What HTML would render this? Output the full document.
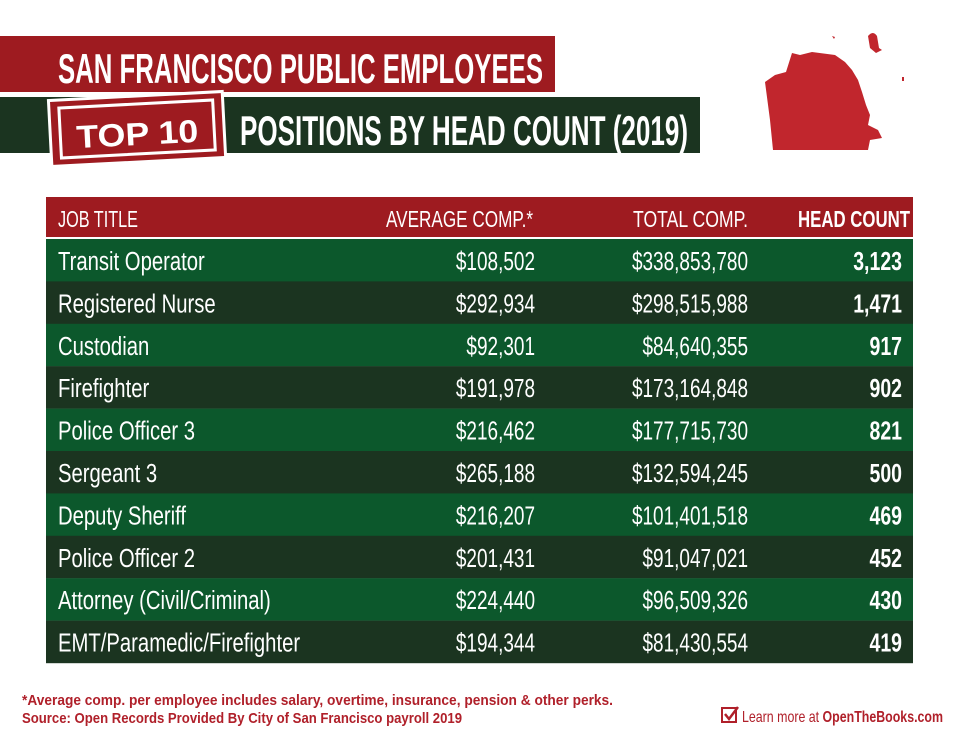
<!DOCTYPE html><html><head><style>
body{margin:0;width:959px;height:746px;background:#fff;overflow:hidden}
svg{display:block}
text{font-family:"Liberation Sans",sans-serif;fill:#fff}
</style></head><body>
<svg width="959" height="746" viewBox="0 0 959 746">
<rect x="0" y="36" width="555" height="56" fill="#9e1b20"/>
<text x="58" y="83" font-size="42" font-weight="bold" textLength="485" lengthAdjust="spacingAndGlyphs">SAN FRANCISCO PUBLIC EMPLOYEES</text>
<rect x="0" y="97" width="700" height="56" fill="#1b3420"/>
<text x="240" y="145" font-size="42" font-weight="bold" textLength="448" lengthAdjust="spacingAndGlyphs">POSITIONS BY HEAD COUNT (2019)</text>
<g transform="rotate(-3 137 128)">
<rect x="50" y="96" width="174" height="66" fill="#9e1b20" stroke="#fff" stroke-width="3"/>
<rect x="60" y="104" width="154" height="50" fill="none" stroke="#fff" stroke-width="3"/>
<text x="137" y="145" font-size="32" font-weight="bold" text-anchor="middle" textLength="122" lengthAdjust="spacingAndGlyphs">TOP 10</text>
</g>
<path d="M765 82 L775 75 L786 72 L792 53 L800 55 L812 52 L835 55 L845 62 L852 70 L858 80 L862 92 L866 105 L870 115 L868 125 L878 130 L882 138 L870 140 L868 150 L773 150 L770 120 Z" fill="#c1262d"/>
<path d="M868 36 Q873 30 877 36 L879 48 L882 50 L876 53 L870 48 Z M832 36 l3 1 -1 2z M902 77 l2 0 0 4 -2 0z" fill="#c1262d"/>
<rect x="46" y="197" width="867" height="40" fill="#9e1b20"/>
<g font-size="23">
<text x="58" y="227" textLength="80" lengthAdjust="spacingAndGlyphs">JOB TITLE</text>
<text x="386" y="227" textLength="147" lengthAdjust="spacingAndGlyphs">AVERAGE COMP.*</text>
<text x="633" y="227" textLength="115" lengthAdjust="spacingAndGlyphs">TOTAL COMP.</text>
<text x="798" y="227" font-weight="bold" textLength="112" lengthAdjust="spacingAndGlyphs">HEAD COUNT</text>
</g>
<g id="rows"></g>
<text x="22" y="705" font-size="15" font-weight="bold" style="fill:#b0202a" textLength="591" lengthAdjust="spacingAndGlyphs">*Average comp. per employee includes salary, overtime, insurance, pension &amp; other perks.</text>
<text x="22" y="723" font-size="15" font-weight="bold" style="fill:#b0202a" textLength="440" lengthAdjust="spacingAndGlyphs">Source: Open Records Provided By City of San Francisco payroll 2019</text>
<path d="M722 708 h14 v14 h-14z" fill="none" stroke="#b0202a" stroke-width="2"/>
<path d="M725 714 l4 5 l9 -12" fill="none" stroke="#b0202a" stroke-width="2.5"/>
<text x="742" y="722" font-size="16" style="fill:#b0202a" textLength="201" lengthAdjust="spacingAndGlyphs">Learn more at <tspan font-weight="bold">OpenTheBooks.com</tspan></text>
</svg>
<script>
var d=[["Transit Operator","$108,502","$338,853,780","3,123"],["Registered Nurse","$292,934","$298,515,988","1,471"],["Custodian","$92,301","$84,640,355","917"],["Firefighter","$191,978","$173,164,848","902"],["Police Officer 3","$216,462","$177,715,730","821"],["Sergeant 3","$265,188","$132,594,245","500"],["Deputy Sheriff","$216,207","$101,401,518","469"],["Police Officer 2","$201,431","$91,047,021","452"],["Attorney (Civil/Criminal)","$224,440","$96,509,326","430"],["EMT/Paramedic/Firefighter","$194,344","$81,430,554","419"]];
var s="";for(var i=0;i<10;i++){var t=239+42.4*i,b=t+31;
s+='<rect x="46" y="'+t+'" width="867" height="42.6" fill="'+(i%2?"#1b3420":"#0c582c")+'"/>';
s+='<text font-size="26" transform="translate(58,'+b+') scale(.78,1)">'+d[i][0]+'</text>';
s+='<text font-size="26" text-anchor="end" transform="translate(535,'+b+') scale(.73,1)">'+d[i][1]+'</text>';
s+='<text font-size="26" text-anchor="end" transform="translate(748,'+b+') scale(.73,1)">'+d[i][2]+'</text>';
s+='<text font-size="26" font-weight="bold" text-anchor="end" transform="translate(902,'+b+') scale(.75,1)">'+d[i][3]+'</text>';}
document.getElementById("rows").innerHTML=s;
</script>
</body></html>
